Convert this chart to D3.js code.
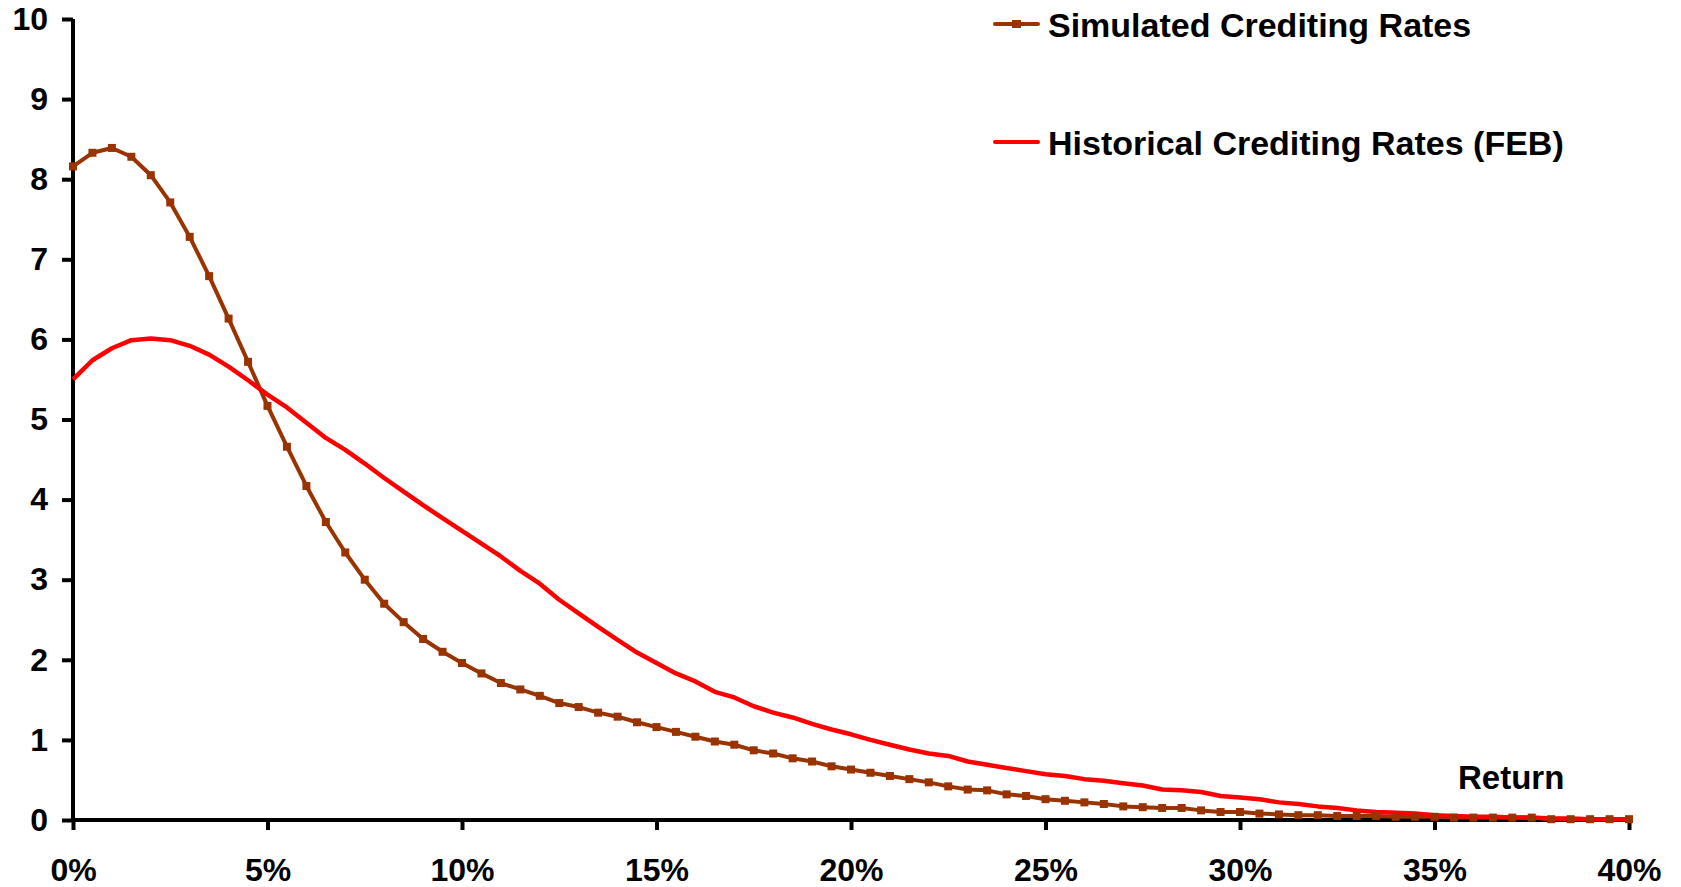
<!DOCTYPE html>
<html>
<head>
<meta charset="utf-8">
<script src="https://cdn.jsdelivr.net/npm/d3@7"></script>
<style>
  html, body { margin: 0; padding: 0; background: #fff; }
  svg { display: block; font-family: "Liberation Sans", Arial, sans-serif; font-weight: bold; }
</style>
</head>
<body>
<svg id="chart" width="1681" height="887"></svg>
<script>
const returns = [0,0.5,1,1.5,2,2.5,3,3.5,4,4.5,5,5.5,6,6.5,7,7.5,8,8.5,9,9.5,10,10.5,11,11.5,12,12.5,13,13.5,14,14.5,15,15.5,16,16.5,17,17.5,18,18.5,19,19.5,20,20.5,21,21.5,22,22.5,23,23.5,24,24.5,25,25.5,26,26.5,27,27.5,28,28.5,29,29.5,30,30.5,31,31.5,32,32.5,33,33.5,34,34.5,35,35.5,36,36.5,37,37.5,38,38.5,39,39.5,40];

const simulated = [8.16,8.33,8.39,8.28,8.05,7.71,7.28,6.79,6.26,5.72,5.17,4.66,4.17,3.72,3.34,3.00,2.70,2.47,2.26,2.10,1.96,1.83,1.71,1.63,1.55,1.46,1.41,1.34,1.29,1.22,1.16,1.10,1.04,0.98,0.94,0.87,0.83,0.77,0.73,0.67,0.63,0.59,0.55,0.51,0.47,0.42,0.38,0.37,0.32,0.30,0.26,0.24,0.22,0.20,0.17,0.16,0.15,0.15,0.12,0.10,0.10,0.08,0.07,0.06,0.06,0.05,0.05,0.05,0.04,0.04,0.04,0.03,0.03,0.03,0.03,0.03,0.01,0.01,0.01,0.01,0.01];

const historical = [5.50,5.74,5.89,5.99,6.01,5.99,5.92,5.81,5.66,5.49,5.31,5.15,4.96,4.77,4.62,4.45,4.27,4.10,3.93,3.77,3.61,3.45,3.29,3.11,2.95,2.75,2.58,2.41,2.25,2.09,1.96,1.83,1.73,1.60,1.53,1.42,1.34,1.28,1.20,1.13,1.07,1.00,0.94,0.88,0.83,0.80,0.73,0.69,0.65,0.61,0.57,0.55,0.51,0.49,0.46,0.43,0.38,0.37,0.35,0.30,0.28,0.26,0.22,0.20,0.17,0.15,0.12,0.10,0.09,0.08,0.06,0.05,0.04,0.04,0.03,0.03,0.02,0.02,0.01,0.01,0.01];

const xTicks = [0,5,10,15,20,25,30,35,40];
const yTicks = [0,1,2,3,4,5,6,7,8,9,10];
const seriesNames = ["Simulated Crediting Rates", "Historical Crediting Rates (FEB)"];
const xAxisTitle = "Return";

(function () {
const svg = d3.select("#chart");
const mLeft = 73, mRight = 1629, mTop = 19, mBottom = 820;

const x = d3.scaleLinear().domain([0, 40]).range([mLeft, mRight]);
const y = d3.scaleLinear().domain([0, 10]).range([mBottom, mTop]);

const simColor = "#993300";
const histColor = "#FF0000";

const yAxis = d3.axisLeft(y).tickValues(yTicks).tickFormat(d3.format("d")).tickSize(11).tickPadding(14);
const xAxis = d3.axisBottom(x).tickValues(xTicks).tickFormat(d => d + "%").tickSize(10).tickPadding(28);

const gy = svg.append("g").attr("transform", `translate(${mLeft},0)`).call(yAxis);
const gx = svg.append("g").attr("transform", `translate(0,${mBottom})`).call(xAxis);

[gy, gx].forEach(g => {
  g.select(".domain").attr("stroke", "#000").attr("stroke-width", 4);
  g.selectAll(".tick line").attr("stroke", "#000").attr("stroke-width", 4);
  g.selectAll(".tick text").attr("fill", "#000")
    .style("font-size", "32px").style("font-weight", "bold")
    .style("font-family", "'Liberation Sans', Arial, sans-serif");
});
gx.select(".domain").attr("d", `M${mLeft},0H${mRight}`);
gy.select(".domain").attr("d", `M0,${mTop}V${mBottom}`);

const data = returns.map((r, i) => ({ r, s: simulated[i], h: historical[i] }));

const lineSim = d3.line().x(d => x(d.r)).y(d => y(d.s));
const lineHist = d3.line().x(d => x(d.r)).y(d => y(d.h));

svg.append("path").datum(data).attr("d", lineSim)
  .attr("fill", "none").attr("stroke", simColor).attr("stroke-width", 4)
  .attr("stroke-linejoin", "round");

svg.append("path").datum(data).attr("d", lineHist)
  .attr("fill", "none").attr("stroke", histColor).attr("stroke-width", 4.5)
  .attr("stroke-linejoin", "round");

const ms = 8;
svg.append("g").selectAll("rect").data(data).join("rect")
  .attr("x", d => x(d.r) - ms / 2)
  .attr("y", d => y(d.s) - ms / 2)
  .attr("width", ms).attr("height", ms)
  .attr("fill", simColor);

const legend = svg.append("g");
const legY = [24, 142];
const legColors = [simColor, histColor];
seriesNames.forEach((name, i) => {
  legend.append("line").attr("x1", 995).attr("x2", 1038)
    .attr("y1", legY[i]).attr("y2", legY[i])
    .attr("stroke", legColors[i]).attr("stroke-width", 4).attr("stroke-linecap", "round");
  if (i === 0) {
    legend.append("rect").attr("x", 1016.5 - 4.5).attr("y", legY[i] - 4)
      .attr("width", 9).attr("height", 8).attr("fill", simColor);
  }
  legend.append("text").attr("x", 1048).attr("y", legY[i] + 13)
    .style("font-size", "34px").attr("fill", "#000").text(name);
});

svg.append("text").attr("x", 1458).attr("y", 789)
  .style("font-size", "33px").attr("fill", "#000").text(xAxisTitle);
})();
</script>
</body>
</html>
